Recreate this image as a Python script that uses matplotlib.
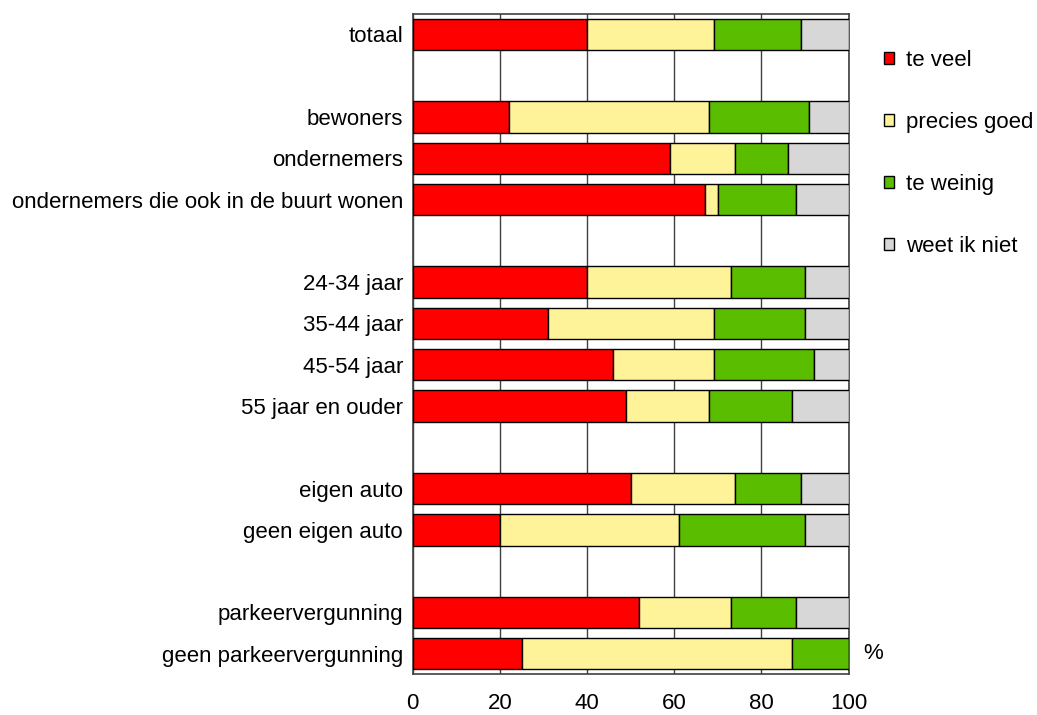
import matplotlib
matplotlib.use("Agg")
import matplotlib.pyplot as plt
import matplotlib.transforms as mtransforms
from matplotlib.patches import Patch
import numpy as np

plt.rcParams['font.family'] = ['Liberation Sans', 'DejaVu Sans']

# Groups of respondents; a blank row separates consecutive groups
groups = [
    ["totaal"],
    ["bewoners", "ondernemers", "ondernemers die ook in de buurt wonen"],
    ["24-34 jaar", "35-44 jaar", "45-54 jaar", "55 jaar en ouder"],
    ["eigen auto", "geen eigen auto"],
    ["parkeervergunning", "geen parkeervergunning"],
]

series_names = ["te veel", "precies goed", "te weinig", "weet ik niet"]

# Percentages per category, in the same order as the groups above
te_veel = [40, 22, 59, 67, 40, 31, 46, 49, 50, 20, 52, 25]
precies_goed = [29, 46, 15, 3, 33, 38, 23, 19, 24, 41, 21, 62]
te_weinig = [20, 23, 12, 18, 17, 21, 23, 19, 15, 29, 15, 13]
weet_ik_niet = [11, 9, 14, 12, 10, 10, 8, 13, 11, 10, 12, 0]

colors = ["#FF0000", "#FFF39A", "#5ABD00", "#D7D7D7"]

x_ticks = [0, 20, 40, 60, 80, 100]

FS = 16.0

# Row positions: one row per category plus an empty row between groups
labels, positions = [], []
row = 0
for gi, g in enumerate(groups):
    if gi > 0:
        row += 1
    for name in g:
        labels.append(name)
        positions.append(row)
        row += 1
n_rows = row

fig = plt.figure(figsize=(10.37, 7.15), dpi=100)
ax = fig.add_axes([0.398, 0.0569, 0.4204, 0.9239])

values = [te_veel, precies_goed, te_weinig, weet_ik_niet]
left = np.zeros(len(labels))
for vals, col, name in zip(values, colors, series_names):
    v = np.array(vals, dtype=float)
    ax.barh(positions, v, left=left, height=0.76, color=col,
            edgecolor="black", linewidth=1.0, label=name, zorder=3)
    left += v

ax.set_xlim(0, 100)
ax.set_ylim(n_rows - 0.5, -0.5)
ax.set_xticks(x_ticks)
ax.set_yticks(positions)
ax.set_yticklabels(labels)
ax.tick_params(axis="both", length=0, labelsize=FS, colors="black")
ax.tick_params(axis="x", pad=13.5)
ax.tick_params(axis="y", pad=7)
ax.xaxis.grid(True, color="#404040", linewidth=1.0, zorder=0)
ax.yaxis.grid(False)
for s in ax.spines.values():
    s.set_color("#404040")
    s.set_linewidth(1.2)

# Unit label beside the last row
trans = mtransforms.blended_transform_factory(ax.transAxes, ax.transData)
ax.text(1.056, positions[-1], "%", transform=trans, ha="center", va="center",
        fontsize=FS, clip_on=False)

handles = [Patch(facecolor=c, edgecolor="black", linewidth=1.0) for c in colors]
fig.legend(handles, series_names, loc="upper left",
           bbox_to_anchor=(884 / 1037, 1 - 50 / 715), frameon=False,
           fontsize=FS, handlelength=0.45, handleheight=0.45,
           handletextpad=0.55, labelspacing=1.85, borderpad=0, borderaxespad=0)

fig.savefig("out.png", dpi=100)
